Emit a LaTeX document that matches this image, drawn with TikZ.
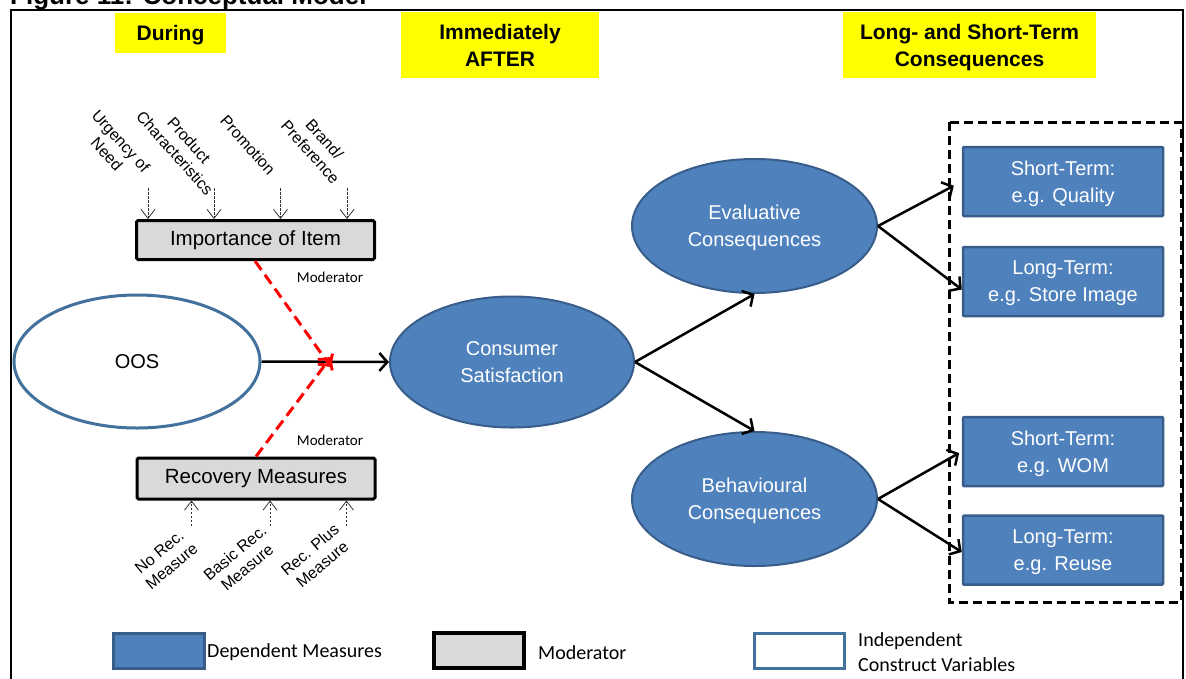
\documentclass[tikz,border=0pt]{standalone}
\usepackage{fontspec}
\setmainfont{Liberation Sans}
\newfontfamily\legendfont{Carlito}
\usetikzlibrary{shapes.geometric,arrows.meta}

\definecolor{depblue}{HTML}{4F81BD}
\definecolor{depedge}{HTML}{385D8A}
\definecolor{indedge}{HTML}{41719C}
\definecolor{modgray}{HTML}{D9D9D9}
\definecolor{hiyellow}{HTML}{FFFF00}

\tikzset{
  header/.style={fill=hiyellow, draw=none, align=center, inner sep=0pt, text depth=0pt,
    font=\bfseries\fontsize{21}{27}\selectfont},
  modbox/.style={draw=black, fill=modgray, line width=3pt, rounded corners=1.5pt,
    minimum width=238pt, minimum height=39pt, inner sep=0pt,
    font=\fontsize{20.5}{26}\selectfont},
  depell/.style={ellipse, draw=depedge, fill=depblue, line width=2pt, inner sep=0pt,
    text=white, align=center, text depth=0pt, font=\fontsize{20}{27}\selectfont},
  depbox/.style={draw=depedge, fill=depblue, line width=2.5pt, rounded corners=1pt,
    minimum width=200pt, minimum height=69pt, inner sep=0pt, text depth=0pt,
    text=white, align=center, font=\fontsize{20}{27}\selectfont},
  factor/.style={align=center, inner sep=0pt, font=\fontsize{16}{19}\selectfont},
  modlabel/.style={inner sep=0pt, font=\legendfont\fontsize{15}{18}\selectfont},
  legtext/.style={anchor=west, inner sep=0pt, align=left,
    font=\legendfont\fontsize{20}{25}\selectfont},
  flow/.style={line width=2.5pt, -{Straight Barb[length=8pt,width=18pt]}},
  modflow/.style={draw=red, line width=3pt, dash pattern=on 11pt off 6pt,
    -{Straight Barb[length=8pt,width=18pt]}},
  feed/.style={line width=0.7pt, dash pattern=on 2.5pt off 1.5pt, black!80,
    -{Straight Barb[length=9pt,width=14pt,line width=0.8pt]}},
}

\begin{document}
\begin{tikzpicture}[x=1pt,y=-1pt]
\useasboundingbox (0,0) rectangle (1186,678);
\clip (0,0) rectangle (1186,678);

% caption and outer frame
\node[anchor=base west, inner sep=0pt, font=\bfseries\fontsize{26}{26}\selectfont]
  (caption) at (10,4) {Figure 11: Conceptual Model};
\draw[line width=2.5pt] (11,700) -- (11,10) -- (1183,10) -- (1183,700);

% phase headers
\node[header, minimum width=111pt, minimum height=40pt] (hduring) at (170.5,33) {During};
\node[header, minimum width=198pt, minimum height=66pt] (hafter) at (500,45) {Immediately\\AFTER};
\node[header, minimum width=253pt, minimum height=66pt] (hcons) at (969.5,45) {Long- and Short-Term\\Consequences};

% moderators
\node[modbox] (imp) at (255.5,240) {Importance of Item};
\node[modbox, minimum height=41pt] (rec) at (256,478.5) {Recovery Measures};

% factors feeding the importance of the item
\node[factor, rotate=-48] (urg) at (114,147.5) {Urgency of\\Need};
\node[factor, rotate=-48] (prod) at (182,146.5) {Product\\Characteristics};
\node[factor, rotate=-48] (promo) at (248,145) {Promotion};
\node[factor, rotate=-48] (brand) at (317.5,145.5) {Brand/\\Preference};
\foreach \n/\x in {u/148, p/214, m/280.5, b/347}{
  \coordinate (top\n) at (\x,188);
  \draw[feed] (top\n) -- (top\n |- imp.north);
}

% recovery options
\node[factor, rotate=40] (norec) at (165.5,559) {No Rec.\\Measure};
\node[factor, rotate=40] (basic) at (241,560) {Basic Rec.\\Measure};
\node[factor, rotate=40] (plus) at (316,557) {Rec. Plus\\Measure};
\foreach \n/\x in {n/191.5, b/270, p/346.5}{
  \coordinate (bot\n) at (\x,526);
  \draw[feed] (bot\n) -- (bot\n |- rec.south);
}

% core constructs
\node[ellipse, draw=indedge, fill=white, line width=3pt, inner sep=0pt,
  minimum width=246pt, minimum height=133pt, font=\fontsize{20}{24}\selectfont]
  (oos) at (137,361.5) {OOS};
\node[depell, minimum width=244pt, minimum height=131pt] (sat) at (512,362) {Consumer\\Satisfaction};
\node[depell, minimum width=245pt, minimum height=134pt] (eval) at (754.5,226) {Evaluative\\Consequences};
\node[depell, minimum width=245pt, minimum height=134pt] (beh) at (754.5,499) {Behavioural\\Consequences};

% consequence boxes
\draw[line width=3pt, dash pattern=on 9pt off 5pt] (949,122) rectangle (1181,602);
\node[depbox] (qual) at (1063,181.5) {Short-Term:\\e.g. Quality};
\node[depbox] (store) at (1063,281.5) {Long-Term:\\e.g. Store Image};
\node[depbox] (wom) at (1063,451.5) {Short-Term:\\e.g. WOM};
\node[depbox] (reuse) at (1063,550) {Long-Term:\\e.g. Reuse};

% connectors
\coordinate (join) at (331,362);
\draw[flow] (oos.east) -- (sat.west);
\draw[modflow] (imp.south -| 255,0) -- ([yshift=-5pt]join);
\draw[modflow] (rec.north -| 256,0) -- ([yshift=5pt]join);
\draw[flow] (sat.east) -- (eval.south);
\draw[flow] (sat.east) -- (beh.north);
\draw[flow, shorten >=9pt] (eval.east) -- (qual.west);
\draw[flow] (eval.east) -- ([yshift=-8pt]store.west);
\draw[flow, shorten >=3pt] (beh.east) -- (wom.west);
\draw[flow] (beh.east) -- ([yshift=-2pt]reuse.west);

\node[modlabel] (modtop) at (330,277.5) {Moderator};
\node[modlabel] (modbot) at (330,440) {Moderator};

% legend
\node[draw=depedge, fill=depblue, line width=3pt, minimum width=91pt, minimum height=35pt,
  inner sep=0pt] (legdep) at (158.5,650.5) {};
\node[legtext] (legdeptxt) at (207,652.5) {Dependent Measures};
\node[draw=black, fill=modgray, line width=4pt, minimum width=90pt, minimum height=35pt,
  inner sep=0pt] (legmod) at (479,650.5) {};
\node[legtext] (legmodtxt) at (538,652.5) {Moderator};
\node[draw=indedge, fill=white, line width=3pt, minimum width=90pt, minimum height=35pt,
  inner sep=0pt] (legind) at (799,650.5) {};
\node[legtext] (legindtxt) at (858,652.5) {Independent\\Construct Variables};
\end{tikzpicture}
\end{document}
